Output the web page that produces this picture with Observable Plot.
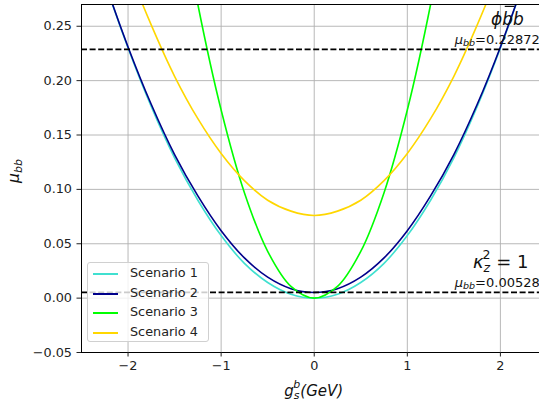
<!DOCTYPE html>
<html>
<head>
<meta charset="utf-8">
<script src="https://cdn.jsdelivr.net/npm/d3@7"></script>
<script src="https://cdn.jsdelivr.net/npm/@observablehq/plot@0.6"></script>
<style>
  body { margin: 0; background: #fff; }
  #wrap { position: relative; width: 539px; height: 408px; font-family: "DejaVu Sans", sans-serif; }
  #legend { position: absolute; left: 87px; top: 262px; width: 122px; height: 80px;
    background: rgba(255,255,255,0.8); border: 1px solid #d0d0d0; border-radius: 3px; box-sizing: border-box; }
  .item { position: absolute; left: 0; height: 20px; font-size: 12.8px; color: #222; }
  .item .sw { position: absolute; left: 5px; width: 25px; height: 2px; top: 0; }
  .item .lb { position: absolute; left: 42px; top: -8px; white-space: nowrap; }
</style>
</head>
<body>
<div id="wrap"></div>
<script>
const gValues = [-2.5,-2.25,-2,-1.75,-1.5,-1.25,-1,-0.75,-0.5,-0.25,0,0.25,0.5,0.75,1,1.25,1.5,1.75,2,2.25,2.5];
const scenario1 = [0.359,0.291,0.230,0.176,0.129,0.090,0.0575,0.032,0.0144,0.0036,0,0.0036,0.0144,0.032,0.0575,0.090,0.129,0.176,0.230,0.291,0.359];
const scenario2 = [0.358,0.291,0.231,0.178,0.132,0.094,0.062,0.037,0.0193,0.0087,0.0052,0.0087,0.0193,0.037,0.062,0.094,0.132,0.178,0.231,0.291,0.358];
const scenario3 = [1.081,0.876,0.692,0.530,0.389,0.270,0.173,0.097,0.043,0.0108,0,0.0108,0.043,0.097,0.173,0.270,0.389,0.530,0.692,0.876,1.081];
const scenario4 = [0.432,0.365,0.304,0.251,0.204,0.165,0.133,0.108,0.090,0.080,0.076,0.080,0.090,0.108,0.133,0.165,0.204,0.251,0.304,0.365,0.432];
const seriesNames = ["Scenario 1","Scenario 2","Scenario 3","Scenario 4"];
const seriesColors = ["#40e0d0","#00008b","#00ff00","#ffd700"];
const seriesValues = [scenario1, scenario2, scenario3, scenario4];
const muLines = [0.22872, 0.00528];
const xTicks = [-2,-1,0,1,2];
const yTicks = [-0.05,0,0.05,0.10,0.15,0.20,0.25];

const rows = seriesValues.flatMap((vals, i) => vals.map((v, j) => ({g: gValues[j], mu: v, s: seriesNames[i]})));

const plot = Plot.plot({
  width: 539, height: 408,
  marginLeft: 81, marginRight: 0, marginTop: 4, marginBottom: 56,
  style: {fontFamily: "DejaVu Sans, sans-serif", fontSize: "12.8px", color: "#222", background: "white"},
  x: {domain: [-2.5, 2.42], label: null},
  y: {domain: [-0.05, 0.27], label: null},
  color: {domain: seriesNames, range: seriesColors},
  marks: [
    Plot.gridX(xTicks, {stroke: "#b0b0b0", strokeOpacity: 1, strokeWidth: 0.9}),
    Plot.gridY(yTicks, {stroke: "#b0b0b0", strokeOpacity: 1, strokeWidth: 0.9}),
    Plot.line(rows, {x: "g", y: "mu", z: "s", stroke: "s", strokeWidth: 1.6, curve: "catmull-rom", clip: true}),
    Plot.ruleY(muLines, {stroke: "black", strokeWidth: 1.6, strokeDasharray: "6,2.6"}),
    Plot.frame({stroke: "black", strokeWidth: 1}),
    Plot.axisX(xTicks, {tickSize: 4.5, tickPadding: 4, fontSize: 12.8, tickFormat: d3.format("d")}),
    Plot.axisY(yTicks, {tickSize: 4.5, tickPadding: 5, fontSize: 12.8, tickFormat: d3.format(".2f")})
  ]
});

const wrap = document.getElementById("wrap");
wrap.appendChild(plot);

const sx = plot.scale("x"), sy = plot.scale("y");
const svg = d3.select(plot);
const ann = svg.append("g").attr("font-family", "DejaVu Sans, sans-serif").attr("fill", "#111").attr("text-anchor", "start");

// phi b-bar b
const phi = ann.append("text").attr("x", sx.apply(1.905)).attr("y", sy.apply(0.2508))
  .attr("font-size", 17).attr("font-style", "italic").text("ϕbb");
{
  const n = phi.node();
  const a = n.getStartPositionOfChar(1), b = n.getEndPositionOfChar(1);
  const by = +phi.attr("y") - 18.5;
  ann.append("line").attr("x1", a.x + 2.5).attr("x2", b.x + 1.5).attr("y1", by).attr("y2", by)
    .attr("stroke", "#111").attr("stroke-width", 1.2);
}

function muLabel(xv, yv, val) {
  const t = ann.append("text").attr("x", sx.apply(xv)).attr("y", sy.apply(yv)).attr("font-size", 13);
  t.append("tspan").attr("font-style", "italic").text("μ");
  t.append("tspan").attr("font-style", "italic").attr("font-size", 9.5).attr("dy", 2.5).text("bb");
  t.append("tspan").attr("dy", -2.5).text("=" + val);
}
muLabel(1.515, 0.2333, "0.22872");
muLabel(1.515, 0.0100, "0.00528");

// kappa_z^2 = 1
const k = ann.append("text").attr("x", sx.apply(1.71)).attr("y", sy.apply(0.0268)).attr("font-size", 18);
k.append("tspan").attr("font-style", "italic").text("κ");
k.append("tspan").attr("font-style", "italic").attr("font-size", 12.5).attr("dy", 4).text("z");
k.append("tspan").attr("font-size", 12.5).attr("dx", -7.5).attr("dy", -13).text("2");
k.append("tspan").attr("dy", 9).text(" = 1");

// axis labels
const xl = ann.append("text").attr("x", sx.apply(0)).attr("y", 396).attr("text-anchor", "middle").attr("font-size", 15).attr("font-style", "italic");
xl.append("tspan").text("g");
xl.append("tspan").attr("font-size", 11).attr("dy", 3).text("s");
xl.append("tspan").attr("font-size", 11).attr("dx", -6.2).attr("dy", -11.5).text("b");
xl.append("tspan").attr("dy", 8.5).text("(GeV)");

const yl = ann.append("text").attr("transform", `translate(19, 171) rotate(-90)`).attr("text-anchor", "middle").attr("font-size", 15.5).attr("font-style", "italic");
yl.append("tspan").text("μ");
yl.append("tspan").attr("font-size", 11).attr("dy", 3).text("bb");

// legend
const leg = document.createElement("div");
leg.id = "legend";
seriesNames.forEach((n, i) => {
  const it = document.createElement("div");
  it.className = "item";
  it.style.top = (10 + i * 19.6) + "px";
  it.innerHTML = `<div class="sw" style="background:${seriesColors[i]}"></div><div class="lb">${n}</div>`;
  leg.appendChild(it);
});
wrap.appendChild(leg);
</script>
</body>
</html>
